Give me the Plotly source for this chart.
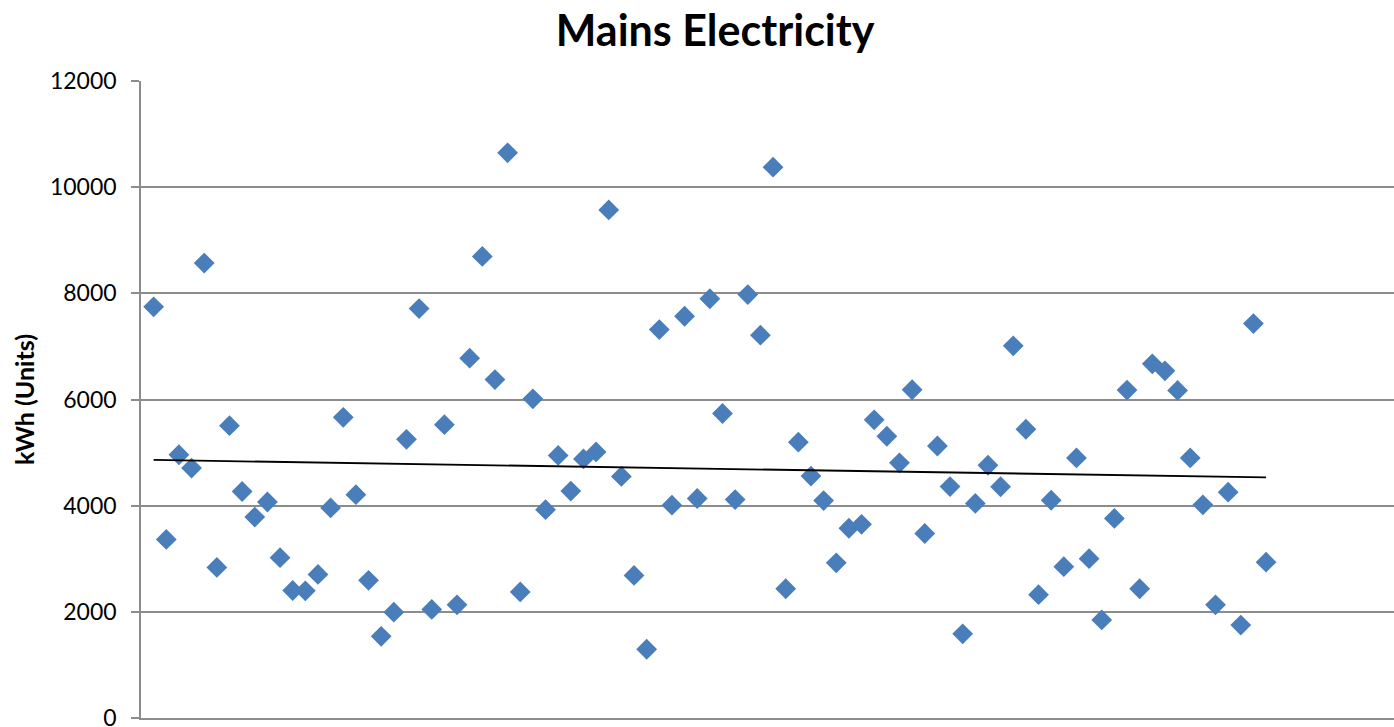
import numpy as np
import plotly.graph_objects as go

# readings, one per period (x = 1..89)
kwh = [
    7746, 3364, 4959, 4709, 8570, 2837, 5506, 4267, 3786, 4069,
    3021, 2402, 2395, 2705, 3957, 5664, 4207, 2593, 1539, 1993,
    5249, 7713, 2046, 5526, 2132, 6778, 8695, 6376, 10646, 2375,
    6013, 3924, 4946, 4274, 4880, 5012, 9572, 4550, 2685, 1295,
    7318, 4010, 7568, 4135, 7898, 5736, 4115, 7977, 7212, 10376,
    2435, 5196, 4557, 4096, 2923, 3575, 3648, 5618, 5308, 4807,
    6184, 3476, 5124, 4359, 1585, 4043, 4761, 4356, 7012, 5440,
    2323, 4102, 2850, 4900, 3002, 1848, 3759, 6178, 2435, 6672,
    6540, 6171, 4900, 4016, 2132, 4254, 1750, 7430, 2936,
]
period = list(range(1, len(kwh) + 1))

# linear trend line through the readings
slope, icept = np.polyfit(period, kwh, 1)
trend_x = [period[0], period[-1]]
trend_y = [icept + slope * x for x in trend_x]

fig = go.Figure()
fig.add_trace(go.Scatter(
    x=period, y=kwh, mode="markers",
    marker=dict(symbol="diamond", size=16, color="#4A7EBB"),
    showlegend=False,
))
fig.add_trace(go.Scatter(
    x=trend_x, y=trend_y, mode="lines",
    line=dict(color="black", width=1.8),
    showlegend=False,
))

grid = "#8C8C8C"
fig.update_layout(
    width=1394, height=727,
    margin=dict(l=141, r=0, t=81, b=9),
    paper_bgcolor="white", plot_bgcolor="white",
    font=dict(family="Lato", color="black"),
    title=dict(
        text="<b>Mains Electricity</b>",
        font=dict(size=43, family="Lato"),
        x=0.513, xref="container", xanchor="center",
        y=0.958, yref="container", yanchor="middle",
    ),
    xaxis=dict(
        range=[0, 99.12], showgrid=False, zeroline=False,
        showticklabels=False, ticks="", automargin=False,
        showline=True, linecolor=grid, linewidth=1.5,
    ),
    yaxis=dict(
        range=[0, 12000], dtick=2000, tickformat="d",
        automargin=False,
        showgrid=True, gridcolor=grid, gridwidth=1.5,
        zeroline=False,
        showline=True, linecolor=grid, linewidth=1.5,
        ticks="outside", ticklen=8, tickcolor=grid, tickwidth=1.5,
        tickfont=dict(size=23),
        ticklabelstandoff=10, ticklabeloverflow="allow",
        title=dict(text="<b>kWh (Units)</b>", font=dict(size=25), standoff=8),
    ),
)

fig.write_html("out.html", config={"displayModeBar": False},
               post_script="document.body.style.margin='0';")
